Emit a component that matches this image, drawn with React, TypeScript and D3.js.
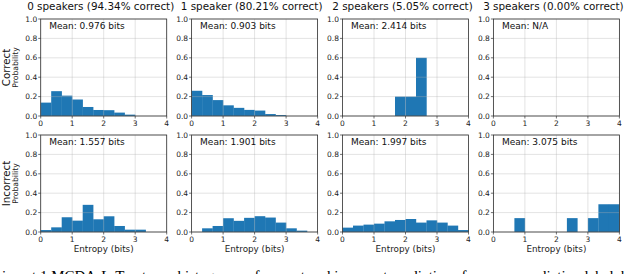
import React from "react";
import * as d3 from "d3";

// histogram probabilities, 12 bins of 1/3 bit from 0 to 4
const titles = [
  "0 speakers (94.34% correct)",
  "1 speaker (80.21% correct)",
  "2 speakers (5.05% correct)",
  "3 speakers (0.00% correct)",
];
const correctMeans = ["Mean: 0.976 bits", "Mean: 0.903 bits", "Mean: 2.414 bits", "Mean: N/A"];
const incorrectMeans = ["Mean: 1.557 bits", "Mean: 1.901 bits", "Mean: 1.997 bits", "Mean: 3.075 bits"];

const correct0 = [0.138, 0.256, 0.21, 0.17, 0.093, 0.062, 0.06, 0.035, 0.014, 0, 0, 0];
const correct1 = [0.26, 0.216, 0.164, 0.11, 0.084, 0.063, 0.056, 0.02, 0.01, 0, 0, 0];
const correct2 = [0, 0, 0, 0, 0, 0.2, 0.2, 0.6, 0, 0, 0, 0];
const correct3 = [0, 0, 0, 0, 0, 0, 0, 0, 0, 0, 0, 0];

const incorrect0 = [0.02, 0.048, 0.152, 0.117, 0.28, 0.131, 0.162, 0.062, 0.024, 0.024, 0, 0];
const incorrect1 = [0, 0.038, 0.062, 0.142, 0.115, 0.146, 0.163, 0.149, 0.097, 0.038, 0.014, 0];
const incorrect2 = [0.045, 0.066, 0.076, 0.086, 0.11, 0.124, 0.134, 0.097, 0.12, 0.097, 0.066, 0.02];
const incorrect3 = [0, 0, 0.143, 0, 0, 0, 0, 0.143, 0, 0.143, 0.286, 0.286];

const rowLabels = ["Correct", "Incorrect"];
const xTicks = [0, 1, 2, 3, 4];
const yTicks = [0, 0.2, 0.4, 0.6, 0.8, 1.0];
const binEdges = d3.range(13).map((i) => i / 3);

const caption =
  "iment 1 MCDA-L-T entropy histograms of correct and incorrect predictions for every prediction label, by the";

const W = 640;
const H = 274;
const left0 = 40.7;
const step = 150.9;
const panelW = 126;
const panelH = 97;
const rowTops = [19, 135];
const font = "DejaVu Sans, sans-serif";

const Panel = ({ col, row, values, mean }) => {
  const left = left0 + col * step;
  const top = rowTops[row];
  const x = d3.scaleLinear().domain([0, 4]).range([left, left + panelW]);
  const y = d3.scaleLinear().domain([0, 1]).range([top + panelH, top]);

  return (
    <g>
      {values.map((v, i) =>
        v > 0 ? (
          <rect
            key={i}
            x={x(binEdges[i])}
            y={y(v)}
            width={x(binEdges[i + 1]) - x(binEdges[i]) + 0.2}
            height={y(0) - y(v)}
            fill="#1f77b4"
          />
        ) : null
      )}
      {/* grid drawn above bars, as in the original */}
      {xTicks.map((t) => (
        <line key={"gx" + t} x1={x(t)} x2={x(t)} y1={top} y2={top + panelH}
          stroke="#b0b0b0" strokeOpacity={0.45} strokeWidth={0.8} />
      ))}
      {yTicks.map((t) => (
        <line key={"gy" + t} x1={left} x2={left + panelW} y1={y(t)} y2={y(t)}
          stroke="#b0b0b0" strokeOpacity={0.45} strokeWidth={0.8} />
      ))}
      <rect x={left} y={top} width={panelW} height={panelH} fill="none" stroke="#333" strokeWidth={0.8} />
      {xTicks.map((t) => (
        <g key={"tx" + t}>
          <line x1={x(t)} x2={x(t)} y1={top + panelH} y2={top + panelH + 2.5} stroke="#333" strokeWidth={0.7} />
          <text x={x(t)} y={top + panelH + 9.5} textAnchor="middle" fontSize={7.5} fontFamily={font} fill="#222">
            {t}
          </text>
        </g>
      ))}
      {yTicks.map((t) => (
        <g key={"ty" + t}>
          <line x1={left - 2.5} x2={left} y1={y(t)} y2={y(t)} stroke="#333" strokeWidth={0.7} />
          <text x={left - 3.5} y={y(t)} dy="0.35em" textAnchor="end" fontSize={7.5} fontFamily={font} fill="#222">
            {t.toFixed(1)}
          </text>
        </g>
      ))}
      <text x={left + 8.5} y={top + 9.5} fontSize={9} fontFamily={font} fill="#111">
        {mean}
      </text>
      {row === 0 && (
        <text x={(left + panelW / 2) - 3} y={9.5} textAnchor="middle" fontSize={10.4} fontFamily={font} fill="#111">
          {titles[col]}
        </text>
      )}
      {row === 1 && (
        <text x={left + panelW / 2} y={251.5} textAnchor="middle" fontSize={8.8} fontFamily={font} fill="#222">
          Entropy (bits)
        </text>
      )}
      {col === 0 && (
        <g>
          <text transform={`translate(9.5,${top + panelH / 2}) rotate(-90)`} textAnchor="middle"
            fontSize={10.3} fontFamily={font} fill="#111">
            {rowLabels[row]}
          </text>
          <text transform={`translate(17.5,${top + panelH / 2}) rotate(-90)`} textAnchor="middle"
            fontSize={7.7} fontFamily={font} fill="#222">
            Probability
          </text>
        </g>
      )}
    </g>
  );
};

export default function App() {
  const correct = [correct0, correct1, correct2, correct3];
  const incorrect = [incorrect0, incorrect1, incorrect2, incorrect3];
  return (
    <svg width={W} height={H} style={{ position: "absolute", left: 0, top: 0, background: "#fff" }}>
      <rect width={W} height={H} fill="#fff" />
      {correct.map((vals, i) => (
        <Panel key={"c" + i} col={i} row={0} values={vals} mean={correctMeans[i]} />
      ))}
      {incorrect.map((vals, i) => (
        <Panel key={"i" + i} col={i} row={1} values={vals} mean={incorrectMeans[i]} />
      ))}
      {/* caption of the source figure, cut off by the bottom edge as in the reference */}
      <text x={2} y={281} fontSize={15} fontFamily="Liberation Serif, serif" fill="#000">
        {caption}
      </text>
    </svg>
  );
}
